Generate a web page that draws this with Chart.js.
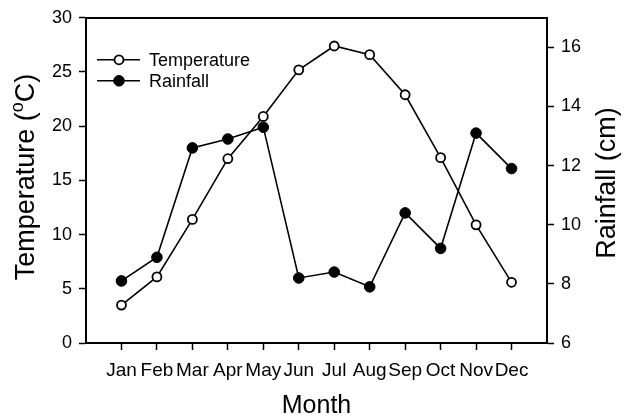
<!DOCTYPE html>
<html>
<head>
<meta charset="utf-8">
<script src="https://cdn.jsdelivr.net/npm/chart.js@4.4.0/dist/chart.umd.min.js"></script>
<style>
  html, body { margin: 0; padding: 0; background: #fff; }
</style>
</head>
<body>
<canvas id="chart-1" width="632" height="420"></canvas>
<script>
// values
const months = ['Jan', 'Feb', 'Mar', 'Apr', 'May', 'Jun', 'Jul', 'Aug', 'Sep', 'Oct', 'Nov', 'Dec'];
const temperature = [3.5, 6.1, 11.4, 17.0, 20.9, 25.2, 27.4, 26.6, 22.9, 17.1, 10.9, 5.6];
const rainfall = [8.1, 8.9, 12.6, 12.9, 13.3, 8.2, 8.4, 7.9, 10.4, 9.2, 13.1, 11.9];
const tempTicks = [0, 5, 10, 15, 20, 25, 30];
const rainTicks = [6, 8, 10, 12, 14, 16];

const FONT = '"Liberation Sans", Arial, sans-serif';
Chart.defaults.font.family = FONT;
Chart.defaults.color = '#000';

// legend inside the plot (line + marker) and both y titles read bottom-to-top
const extras = {
  id: 'extras',
  afterDraw(chart) {
    const {ctx, chartArea} = chart;
    ctx.save();
    chart.data.datasets.forEach((ds, i) => {
      const x = chartArea.left + 11;
      const y = chartArea.top + 42 + i * 21;
      ctx.strokeStyle = '#000';
      ctx.lineWidth = ds.borderWidth;
      ctx.beginPath();
      ctx.moveTo(x, y);
      ctx.lineTo(x + 43, y);
      ctx.stroke();
      ctx.beginPath();
      ctx.arc(x + 22, y, ds.pointRadius, 0, Math.PI * 2);
      ctx.fillStyle = ds.pointBackgroundColor;
      ctx.fill();
      ctx.lineWidth = ds.pointBorderWidth;
      ctx.stroke();
      ctx.fillStyle = '#000';
      ctx.font = '18px ' + FONT;
      ctx.textBaseline = 'middle';
      ctx.textAlign = 'left';
      ctx.fillText(ds.label, x + 52, y + 1);
    });

    // left title with superscript o
    const big = '27px ' + FONT, small = '18px ' + FONT;
    const parts = [['Temperature (', big, 0], ['o', small, -9], ['C)', big, 0]];
    let w = 0;
    parts.forEach(p => { ctx.font = p[1]; w += ctx.measureText(p[0]).width; });
    ctx.save();
    ctx.translate(27, 177);
    ctx.rotate(-Math.PI / 2);
    ctx.textBaseline = 'middle';
    ctx.textAlign = 'left';
    let cx = -w / 2;
    parts.forEach(p => {
      ctx.font = p[1];
      ctx.fillText(p[0], cx, p[2]);
      cx += ctx.measureText(p[0]).width;
    });
    ctx.restore();

    // right title
    ctx.save();
    ctx.translate(608, 183);
    ctx.rotate(-Math.PI / 2);
    ctx.font = big;
    ctx.textBaseline = 'middle';
    ctx.textAlign = 'center';
    ctx.fillText('Rainfall (cm)', 0, 0);
    ctx.restore();
    ctx.restore();
  }
};

const axisLine = {color: '#000', width: 2};
const tickGrid = {drawOnChartArea: false, tickLength: 7, tickColor: '#000', tickWidth: 1.5};

new Chart(document.querySelector('#chart-1'), {
  type: 'line',
  data: {
    datasets: [{
      label: 'Temperature',
      data: temperature.map((v, i) => ({x: i + 1, y: v})),
      yAxisID: 'y',
      borderColor: '#000',
      borderWidth: 1.6,
      pointRadius: 4.5,
      pointBackgroundColor: '#fff',
      pointBorderColor: '#000',
      pointBorderWidth: 1.8,
      tension: 0
    }, {
      label: 'Rainfall',
      data: rainfall.map((v, i) => ({x: i + 1, y: v})),
      yAxisID: 'y2',
      borderColor: '#000',
      borderWidth: 1.6,
      pointRadius: 5.3,
      pointBackgroundColor: '#000',
      pointBorderColor: '#000',
      pointBorderWidth: 1,
      tension: 0
    }]
  },
  options: {
    responsive: false,
    animation: false,
    devicePixelRatio: 1,
    layout: {padding: {top: 17, left: 0, right: 0, bottom: 0}},
    plugins: {legend: {display: false}, tooltip: {enabled: false}},
    scales: {
      x: {
        type: 'linear',
        position: 'bottom',
        min: 0,
        max: 13,
        afterBuildTicks: s => { s.ticks = months.map((m, i) => ({value: i + 1})); },
        afterFit: s => { s.height = 77; },
        ticks: {
          autoSkip: false,
          maxRotation: 0,
          font: {size: 19},
          padding: 9,
          callback: v => months[v - 1]
        },
        grid: tickGrid,
        border: axisLine,
        title: {display: true, text: 'Month', font: {size: 25, lineHeight: 1.1}, padding: {top: 0, bottom: 0}}
      },
      x2: {
        type: 'linear',
        position: 'top',
        min: 0,
        max: 13,
        afterFit: s => { s.height = 0; },
        ticks: {display: false},
        grid: {drawOnChartArea: false, drawTicks: false},
        border: axisLine
      },
      y: {
        type: 'linear',
        position: 'left',
        min: 0,
        max: 30,
        afterBuildTicks: s => { s.ticks = tempTicks.map(v => ({value: v})); },
        afterFit: s => { s.width = 86; },
        ticks: {font: {size: 18}, padding: 7},
        grid: tickGrid,
        border: axisLine
      },
      y2: {
        type: 'linear',
        position: 'right',
        min: 6,
        max: 17,
        afterBuildTicks: s => { s.ticks = rainTicks.map(v => ({value: v})); },
        afterFit: s => { s.width = 85; },
        ticks: {font: {size: 18}, padding: 7},
        grid: tickGrid,
        border: axisLine
      }
    }
  },
  plugins: [extras]
});
</script>
</body>
</html>
